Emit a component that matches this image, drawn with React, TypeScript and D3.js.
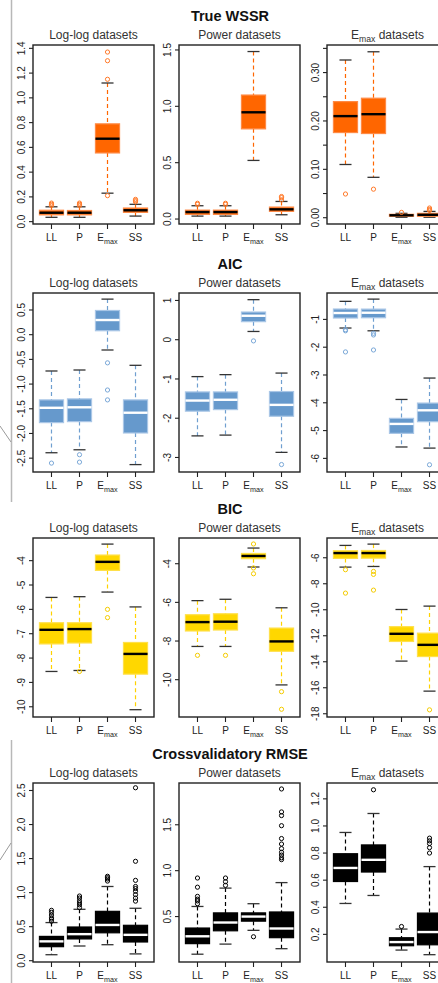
import * as d3 from "d3";

const W = 438;
const H = 983;

const models = ["LL", "P", "Emax", "SS"];
const datasets = ["Log-log", "Power", "Emax"];
const metricTitles = ["True WSSR", "AIC", "BIC", "Crossvalidatory RMSE"];

// [lower whisker, Q1, median, Q3, upper whisker] for LL, P, Emax, SS in each dataset panel
const wssrStats = [
  [[0.035, 0.055, 0.072, 0.092, 0.12], [0.035, 0.055, 0.072, 0.09, 0.12], [0.23, 0.555, 0.67, 0.79, 1.12], [0.045, 0.075, 0.092, 0.11, 0.14]],
  [[0.026, 0.041, 0.062, 0.079, 0.118], [0.026, 0.041, 0.062, 0.079, 0.118], [0.52, 0.8, 0.947, 1.1, 1.486], [0.038, 0.068, 0.086, 0.106, 0.156]],
  [[0.11, 0.176, 0.21, 0.24, 0.326], [0.0835, 0.174, 0.214, 0.247, 0.343], [0.001, 0.003, 0.005, 0.007, 0.009], [0.001, 0.003, 0.006, 0.009, 0.013]],
];
const wssrOutliers = [
  [[0.13, 0.14, 0.15], [0.13, 0.14, 0.15], [0.21, 1.15, 1.3, 1.37], [0.16, 0.17, 0.18]],
  [[0.13, 0.14], [0.13, 0.14], [], [0.17, 0.19, 0.2]],
  [[0.049], [0.059], [0.011], [0.015, 0.017, 0.02]],
];

const aicStats = [
  [[-2.39, -1.78, -1.48, -1.32, -0.735], [-2.33, -1.76, -1.47, -1.3, -0.715], [-0.31, 0.08, 0.297, 0.49, 0.72], [-2.63, -1.99, -1.58, -1.32, -0.62]],
  [[-2.45, -1.82, -1.55, -1.33, -0.94], [-2.43, -1.78, -1.53, -1.33, -0.89], [0.21, 0.46, 0.61, 0.705, 1.02], [-2.87, -1.95, -1.66, -1.32, -0.85]],
  [[-1.31, -0.95, -0.77, -0.626, -0.35], [-1.41, -0.94, -0.76, -0.63, -0.27], [-5.59, -5.1, -4.76, -4.56, -3.88], [-5.63, -4.68, -4.27, -4.01, -3.11]],
];
const aicOutliers = [
  [[-2.6], [-2.43, -2.58], [-0.57, -1.12, -1.32], []],
  [[], [], [-0.03], [-3.18]],
  [[-1.37, -1.41, -2.17], [-1.5, -1.56, -2.1], [], [-6.23]],
];

const bicStats = [
  [[-8.55, -7.42, -6.84, -6.55, -5.51], [-8.51, -7.38, -6.81, -6.55, -5.48], [-5.29, -4.4, -4.05, -3.77, -3.32], [-10.12, -8.66, -7.83, -7.36, -5.9]],
  [[-8.28, -7.48, -7.02, -6.64, -5.91], [-8.28, -7.43, -7.0, -6.59, -5.84], [-4.17, -3.74, -3.6, -3.47, -3.19], [-10.27, -8.53, -8.02, -7.33, -6.28]],
  [[-6.72, -6.05, -5.64, -5.46, -5.05], [-6.67, -6.03, -5.64, -5.44, -4.95], [-13.95, -12.44, -11.85, -11.3, -9.98], [-16.26, -13.6, -12.7, -11.8, -9.72]],
];
const bicOutliers = [
  [[], [-8.55], [-6.0, -6.34], []],
  [[-8.74], [-8.74], [-2.98, -4.22, -4.52], [-10.62, -11.53]],
  [[-6.92, -8.72], [-7.05, -7.28, -8.49], [], [-17.7]],
];

const rmseStats = [
  [[0.088, 0.206, 0.284, 0.357, 0.56], [0.216, 0.32, 0.39, 0.495, 0.755], [0.235, 0.41, 0.525, 0.725, 1.09], [0.1, 0.275, 0.38, 0.52, 0.77]],
  [[0.09, 0.205, 0.285, 0.375, 0.61], [0.2, 0.345, 0.435, 0.54, 0.81], [0.35, 0.45, 0.5, 0.54, 0.64], [0.15, 0.27, 0.37, 0.55, 0.87]],
  [[0.428, 0.59, 0.69, 0.795, 0.952], [0.487, 0.66, 0.75, 0.86, 1.092], [0.084, 0.116, 0.143, 0.175, 0.239], [0.05, 0.123, 0.217, 0.357, 0.7]],
];
const rmseOutliers = [
  [[0.58, 0.61, 0.63, 0.67, 0.71, 0.74], [0.78, 0.82, 0.85, 0.88, 0.92, 0.95], [1.17, 1.2, 1.22, 1.24], [0.875, 0.92, 0.97, 1.02, 1.06, 1.09, 1.18, 1.46, 2.54]],
  [[0.64, 0.67, 0.69, 0.72, 0.82, 0.92], [0.84, 0.88, 0.92], [0.28], [1.12, 1.14, 1.17, 1.2, 1.24, 1.29, 1.35, 1.49, 1.6, 1.64, 1.89]],
  [[], [1.267], [0.258], [0.8, 0.84, 0.87, 0.89, 0.91]],
];

// y-axis limits per panel (as R's boxplot set them)
const wssrDomains = [[-0.019, 1.427], [-0.044, 1.544], [-0.013, 0.357]];
const aicDomains = [[-2.78, 0.844], [-3.37, 1.19], [-6.49, -0.05]];
const bicDomains = [[-10.42, -3.07], [-11.93, -2.67], [-18.25, -4.48]];
const rmseDomains = [[-0.019, 2.61], [0.005, 1.955], [-0.004, 1.317]];

const wssrTicks = [[0, 0.2, 0.4, 0.6, 0.8, 1.0, 1.2, 1.4], [0, 0.5, 1.0, 1.5], [0, 0.05, 0.1, 0.15, 0.2, 0.25, 0.3, 0.35]];
const wssrLabels = [["0.0", "0.2", "0.4", "0.6", "0.8", "1.0", "1.2", "1.4"], ["0.0", "0.5", "1.0", "1.5"], ["0.00", "", "0.10", "", "0.20", "", "0.30", ""]];
const aicTicks = [[0.5, 0, -0.5, -1, -1.5, -2, -2.5], [1, 0, -1, -2, -3], [-1, -2, -3, -4, -5, -6]];
const aicLabels = [["0.5", "0.0", "-0.5", "-1.0", "-1.5", "-2.0", "-2.5"], ["1", "0", "-1", "-2", "-3"], ["-1", "-2", "-3", "-4", "-5", "-6"]];
const bicTicks = [[-4, -5, -6, -7, -8, -9, -10], [-4, -6, -8, -10], [-6, -8, -10, -12, -14, -16, -18]];
const bicLabels = [["-4", "-5", "-6", "-7", "-8", "-9", "-10"], ["-4", "-6", "-8", "-10"], ["-6", "-8", "-10", "-12", "-14", "-16", "-18"]];
const rmseTicks = [[0, 0.5, 1.0, 1.5, 2.0, 2.5], [0.5, 1.0, 1.5], [0.2, 0.4, 0.6, 0.8, 1.0, 1.2]];
const rmseLabels = [["0.0", "0.5", "1.0", "1.5", "2.0", "2.5"], ["0.5", "1.0", "1.5"], ["0.2", "0.4", "0.6", "0.8", "1.0", "1.2"]];

const metrics = [
  { stats: wssrStats, outliers: wssrOutliers, domains: wssrDomains, ticks: wssrTicks, labels: wssrLabels },
  { stats: aicStats, outliers: aicOutliers, domains: aicDomains, ticks: aicTicks, labels: aicLabels },
  { stats: bicStats, outliers: bicOutliers, domains: bicDomains, ticks: bicTicks, labels: bicLabels },
  { stats: rmseStats, outliers: rmseOutliers, domains: rmseDomains, ticks: rmseTicks, labels: rmseLabels },
];

const looks = [
  { fill: "#ff6600", border: "#ff8a45", median: "#000", whisker: "#ff6600", point: "#ff7a2a" },
  { fill: "#6699cc", border: "#a9c6e6", median: "#fff", whisker: "#6f9fd0", point: "#7aa8d8" },
  { fill: "#ffd700", border: "#ffe04a", median: "#000", whisker: "#ffd200", point: "#f5cc00" },
  { fill: "#000", border: "#000", median: "#fff", whisker: "#000", point: "#000" },
];

const font = "'Liberation Sans', Arial, Helvetica, sans-serif";
const rowTitleY = [21, 269, 514, 759];
const rowTop = [45, 293, 538, 783];
const colLeft = [33, 179, 327];
const plotW = 121;
const plotH = 179;
const boxHalf = 0.43;

const EmaxText = ({ size, suffix }) => (
  <>
    <tspan>E</tspan>
    <tspan fontSize={size * 0.72} dy={size * 0.22}>max</tspan>
    {suffix ? <tspan dy={-size * 0.22}>{suffix}</tspan> : null}
  </>
);

const Panel = ({ row, col }) => {
  const m = metrics[row];
  const look = looks[row];
  const left = colLeft[col];
  const top = rowTop[row];
  const x = d3.scaleLinear().domain([0.34, 4.66]).range([left, left + plotW]);
  const y = d3.scaleLinear().domain(m.domains[col]).range([top + plotH, top]);
  const ticks = m.ticks[col];
  const labels = m.labels[col];
  const cx = left + plotW / 2;

  return (
    <g>
      <text x={cx} y={top - 6} textAnchor="middle" fontSize={12} fill="#333" fontFamily={font}>
        {datasets[col] === "Emax" ? <EmaxText size={12} suffix=" datasets" /> : `${datasets[col]} datasets`}
      </text>

      {m.stats[col].map((s, i) => {
        const [lo, q1, med, q3, hi] = s;
        const px = x(i + 1);
        const bx0 = x(i + 1 - boxHalf);
        const bx1 = x(i + 1 + boxHalf);
        const cap = (bx1 - bx0) / 4;
        return (
          <g key={i}>
            <line x1={px} x2={px} y1={y(hi)} y2={y(q3)} stroke={look.whisker} strokeWidth={1.2} strokeDasharray="4,3" />
            <line x1={px} x2={px} y1={y(q1)} y2={y(lo)} stroke={look.whisker} strokeWidth={1.2} strokeDasharray="4,3" />
            <line x1={px - cap} x2={px + cap} y1={y(hi)} y2={y(hi)} stroke="#333" strokeWidth={1.3} />
            <line x1={px - cap} x2={px + cap} y1={y(lo)} y2={y(lo)} stroke="#333" strokeWidth={1.3} />
            <rect x={bx0} y={y(q3)} width={bx1 - bx0} height={Math.max(1, y(q1) - y(q3))} fill={look.fill} stroke={look.border} strokeWidth={1.2} />
            <line x1={bx0} x2={bx1} y1={y(med)} y2={y(med)} stroke={look.median} strokeWidth={2.4} />
            {m.outliers[col][i].map((v, k) => (
              <circle key={k} cx={px} cy={y(v)} r={2.1} fill="none" stroke={look.point} strokeWidth={1} />
            ))}
          </g>
        );
      })}

      <rect x={left} y={top} width={plotW} height={plotH} fill="none" stroke="#222" strokeWidth={1.4} />

      {ticks.map((t, k) => (
        <g key={k}>
          <line x1={left - 4} x2={left} y1={y(t)} y2={y(t)} stroke="#222" strokeWidth={1.1} />
          {labels[k] ? (
            <text
              x={left - 8}
              y={y(t)}
              transform={`rotate(-90, ${left - 8}, ${y(t)})`}
              textAnchor="middle"
              fontSize={10}
              fill="#222"
              fontFamily={font}
            >
              {labels[k]}
            </text>
          ) : null}
        </g>
      ))}

      {models.map((name, i) => (
        <g key={name}>
          <line x1={x(i + 1)} x2={x(i + 1)} y1={top + plotH} y2={top + plotH + 5} stroke="#222" strokeWidth={1.1} />
          <text x={x(i + 1)} y={top + plotH + 17.3} textAnchor="middle" fontSize={10} fill="#222" fontFamily={font}>
            {name === "Emax" ? <EmaxText size={10} /> : name}
          </text>
        </g>
      ))}
    </g>
  );
};

export default function App() {
  return (
    <svg width={W} height={H} style={{ position: "absolute", left: 0, top: 0, background: "#fff" }}>
      <rect x={0} y={0} width={W} height={H} fill="#fff" />
      {/* scan edge marks on the left */}
      <line x1={11.5} x2={11.5} y1={0} y2={502} stroke="#b8b8b8" strokeWidth={1.5} />
      <line x1={11.5} x2={11.5} y1={740} y2={H} stroke="#b8b8b8" strokeWidth={1.5} />
      <line x1={0} x2={11} y1={426} y2={442} stroke="#9a9a9a" strokeWidth={1} />
      <line x1={0} x2={11} y1={860} y2={843} stroke="#9a9a9a" strokeWidth={1} />

      {metricTitles.map((t, r) => (
        <text key={t} x={230} y={rowTitleY[r]} textAnchor="middle" fontSize={14.5} fontWeight="bold" fill="#111" fontFamily={font}>
          {t}
        </text>
      ))}
      {metricTitles.map((_, r) => datasets.map((_, c) => <Panel key={`${r}-${c}`} row={r} col={c} />))}
    </svg>
  );
}
